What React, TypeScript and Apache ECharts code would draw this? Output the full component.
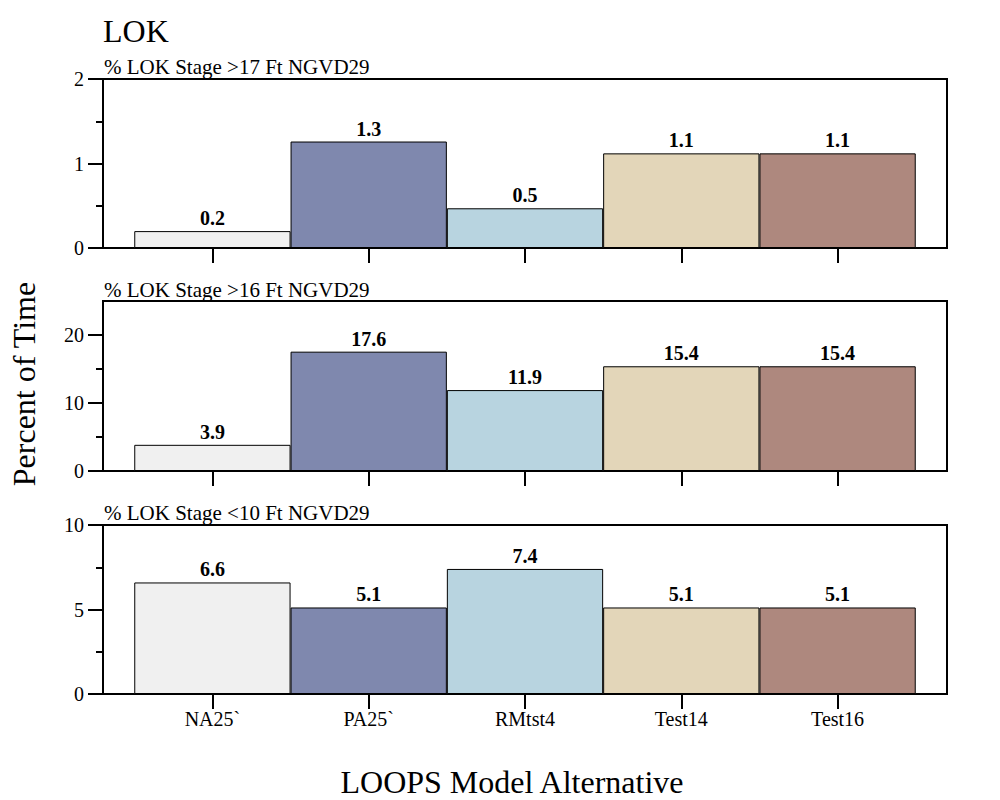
import React, { useEffect, useRef } from "react";
import * as echarts from "echarts";

const categories = ["NA25`", "PA25`", "RMtst4", "Test14", "Test16"];
const barColors = ["#f0f0f0", "#7f88ae", "#b8d4e0", "#e3d6b9", "#ae887e"];
const panelTitles = [
  "% LOK Stage >17 Ft NGVD29",
  "% LOK Stage >16 Ft NGVD29",
  "% LOK Stage <10 Ft NGVD29",
];
const stageAbove17 = [0.2, 1.26, 0.47, 1.12, 1.12];
const stageAbove16 = [3.85, 17.55, 11.9, 15.4, 15.4];
const stageBelow10 = [6.6, 5.12, 7.4, 5.12, 5.12];
const panelValues = [stageAbove17, stageAbove16, stageBelow10];
const yMax = [2, 25, 10];
const majorTicks = [
  [0, 1, 2],
  [0, 10, 20],
  [0, 5, 10],
];
const minorTicks = [
  [0.5, 1.5],
  [5, 15],
  [2.5, 7.5],
];
const categoryPositions = [0, 1, 2, 3, 4];

const FONT = "'Liberation Serif', 'Times New Roman', serif";
const gridTops = [79, 301, 525];
const gridHeights = [169, 170, 169];
const subtitleY = [67, 290, 513];

export default function App() {
  const ref = useRef<HTMLDivElement>(null);

  useEffect(() => {
    if (!ref.current) return;
    const chart = echarts.init(ref.current, undefined, { renderer: "svg" });
    const axisLineStyle = { color: "#000", width: 2 };

    const grid = gridTops.map((t, i) => ({
      left: 103,
      width: 844,
      top: t,
      height: gridHeights[i],
      show: true,
      borderColor: "#000",
      borderWidth: 2,
      backgroundColor: "#fff",
    }));

    const xAxis = panelValues.map((_, i) => ({
      type: "value",
      gridIndex: i,
      min: -0.7,
      max: 4.7,
      axisLine: { show: true, onZero: false, lineStyle: axisLineStyle },
      axisTick: {
        show: true,
        customValues: categoryPositions,
        length: 15,
        lineStyle: axisLineStyle,
      },
      axisLabel: {
        show: i === 2,
        customValues: categoryPositions,
        formatter: (v: number) => categories[Math.round(v)] ?? "",
        fontSize: 20,
        fontFamily: FONT,
        color: "#000",
        margin: 15,
      },
      splitLine: { show: false },
    }));

    const yAxis: any[] = [];
    panelValues.forEach((_, i) => {
      yAxis.push({
        type: "value",
        gridIndex: i,
        min: 0,
        max: yMax[i],
        position: "left",
        axisLine: { show: true, onZero: false, lineStyle: axisLineStyle },
        axisTick: {
          show: true,
          customValues: majorTicks[i],
          length: 15,
          lineStyle: axisLineStyle,
        },
        axisLabel: {
          show: true,
          customValues: majorTicks[i],
          fontSize: 20,
          fontFamily: FONT,
          color: "#000",
          margin: 19,
        },
        splitLine: { show: false },
      });
      yAxis.push({
        type: "value",
        gridIndex: i,
        min: 0,
        max: yMax[i],
        position: "left",
        axisLine: { show: false, onZero: false },
        axisTick: {
          show: true,
          customValues: minorTicks[i],
          length: 7,
          lineStyle: axisLineStyle,
        },
        axisLabel: { show: false },
        splitLine: { show: false },
      });
    });

    const series = panelValues.map((vals, i) => ({
      type: "bar",
      xAxisIndex: i,
      yAxisIndex: 2 * i,
      barWidth: "100%",
      data: vals.map((v, j) => ({
        value: [categoryPositions[j], v],
        itemStyle: { color: barColors[j] },
      })),
      itemStyle: { borderColor: "#000", borderWidth: 1 },
      label: {
        show: true,
        position: "top",
        distance: 3,
        fontWeight: "bold",
        fontSize: 20,
        fontFamily: FONT,
        color: "#000",
        formatter: (p: any) => Number(p.value[1]).toFixed(1),
      },
    }));

    const textStyle = (text: string, size: number, align = "left") => ({
      text,
      fontSize: size,
      fontFamily: FONT,
      fill: "#000",
      align,
      verticalAlign: "middle",
    });

    const graphic: any[] = [
      { type: "text", x: 103, y: 31, style: textStyle("LOK", 32) },
      {
        type: "text",
        x: 24,
        y: 384,
        rotation: Math.PI / 2,
        style: textStyle("Percent of Time", 32, "center"),
      },
      {
        type: "text",
        x: 512,
        y: 782,
        style: textStyle("LOOPS Model Alternative", 32, "center"),
      },
      ...panelTitles.map((t, i) => ({
        type: "text",
        x: 104,
        y: subtitleY[i],
        style: textStyle(t, 21),
      })),
    ];

    chart.setOption({
      animation: false,
      backgroundColor: "#fff",
      grid,
      xAxis,
      yAxis,
      series,
      graphic,
    } as any);

    return () => chart.dispose();
  }, []);

  return (
    <div
      ref={ref}
      style={{ position: "absolute", left: 0, top: 0, width: 1000, height: 800 }}
    />
  );
}
